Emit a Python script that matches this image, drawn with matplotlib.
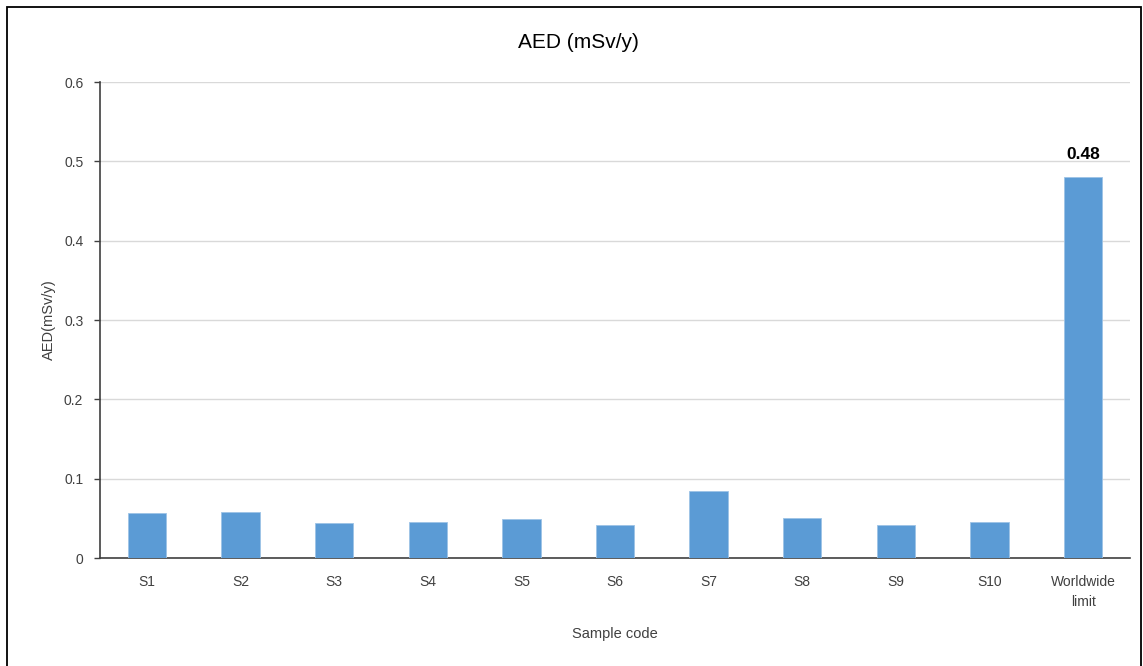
import matplotlib
matplotlib.use('Agg')
import matplotlib.pyplot as plt
from matplotlib.patches import Rectangle

# values
samples = ['S1', 'S2', 'S3', 'S4', 'S5', 'S6', 'S7', 'S8', 'S9', 'S10', 'Worldwide\nlimit']
aed = [0.0567, 0.0584, 0.0436, 0.0454, 0.0492, 0.0416, 0.0845, 0.0508, 0.0416, 0.0454, 0.48]
yticks = [0, 0.1, 0.2, 0.3, 0.4, 0.5, 0.6]
ytick_labels = ['0', '0.1', '0.2', '0.3', '0.4', '0.5', '0.6']

plt.rcParams['font.family'] = ['Liberation Sans', 'DejaVu Sans']

bar_color = '#5b9bd5'
text_color = '#404040'

fig = plt.figure(figsize=(11.43, 6.66), dpi=100)
ax = fig.add_axes([100 / 1143, 1 - 558 / 666, 1030 / 1143, 476 / 666])

x = list(range(len(samples)))
ax.bar(x, aed, width=0.41, color=bar_color, edgecolor='#9dc3e6', linewidth=0.6, zorder=3)

# label only the worldwide limit bar
ax.annotate(f'{aed[-1]:.2f}', xy=(x[-1], aed[-1]), xytext=(0, 11), textcoords='offset points',
            ha='center', va='bottom', fontsize=12.5, fontweight='bold', color='black')

ax.set_xlim(-0.5, len(samples) - 0.5)
ax.set_ylim(0, 0.6)
ax.set_yticks(yticks)
ax.set_yticklabels(ytick_labels)
ax.set_xticks(x)
ax.set_xticklabels(samples, linespacing=1.55)
ax.tick_params(axis='x', length=0, pad=12, labelsize=10, labelcolor=text_color)
ax.tick_params(axis='y', length=4, width=1, color='#404040', pad=8, labelsize=10, labelcolor=text_color)

ax.grid(axis='y', color='#d9d9d9', linewidth=1, zorder=0)
for s in ['top', 'right']:
    ax.spines[s].set_visible(False)
ax.spines['left'].set_color('#404040')
ax.spines['bottom'].set_color('#404040')
ax.spines['left'].set_linewidth(1.2)
ax.spines['bottom'].set_linewidth(1.2)

fig.text(578 / 1143, 1 - 42 / 666, 'AED (mSv/y)', fontsize=15, color='black', ha='center', va='center')
ax.set_xlabel('Sample code', fontsize=10.5, color=text_color, labelpad=13)
ax.set_ylabel('AED(mSv/y)', fontsize=10.5, color=text_color, labelpad=6)

# outer frame of the chart area
fig.patches.append(Rectangle((7 / 1143, -0.05), 1134 / 1143, 1 - 7 / 666 + 0.05,
                             transform=fig.transFigure, fill=False,
                             edgecolor='black', linewidth=1.3))

fig.savefig('out.png', dpi=100)
